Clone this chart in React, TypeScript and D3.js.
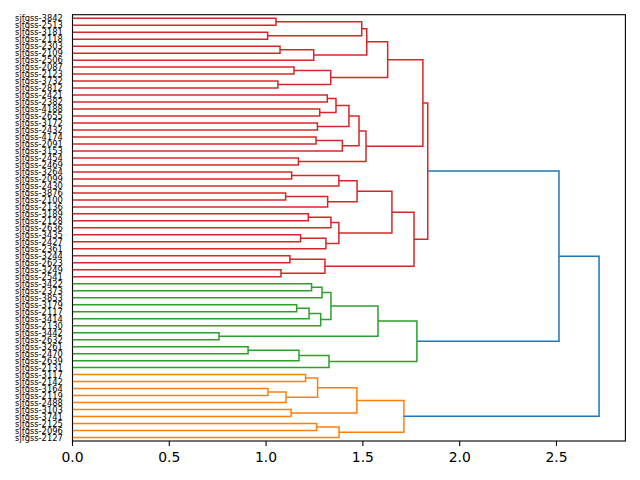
import * as d3 from 'd3';

// leaves, top to bottom
const leafLabels = [
  'sjfgss-3842', 'sjfgss-2513', 'sjfgss-3181', 'sjfgss-2118', 'sjfgss-2303', 'sjfgss-2109',
  'sjfgss-2506', 'sjfgss-2087', 'sjfgss-2123', 'sjfgss-3732', 'sjfgss-2812', 'sjfgss-2421',
  'sjfgss-2382', 'sjfgss-4188', 'sjfgss-2655', 'sjfgss-3172', 'sjfgss-2432', 'sjfgss-4174',
  'sjfgss-2091', 'sjfgss-3153', 'sjfgss-2454', 'sjfgss-2469', 'sjfgss-3264', 'sjfgss-2099',
  'sjfgss-2430', 'sjfgss-3876', 'sjfgss-2100', 'sjfgss-2136', 'sjfgss-3189', 'sjfgss-2128',
  'sjfgss-2636', 'sjfgss-3435', 'sjfgss-2427', 'sjfgss-2361', 'sjfgss-3244', 'sjfgss-2623',
  'sjfgss-3249', 'sjfgss-2541', 'sjfgss-3422', 'sjfgss-2373', 'sjfgss-3853', 'sjfgss-3179',
  'sjfgss-2117', 'sjfgss-3414', 'sjfgss-2130', 'sjfgss-3442', 'sjfgss-2632', 'sjfgss-3261',
  'sjfgss-2470', 'sjfgss-2639', 'sjfgss-2131', 'sjfgss-3117', 'sjfgss-2142', 'sjfgss-3164',
  'sjfgss-2119', 'sjfgss-2488', 'sjfgss-3103', 'sjfgss-3741', 'sjfgss-2125', 'sjfgss-2096',
  'sjfgss-2127',
];

// merges: [child a, child b, height]; ids >= 61 refer to earlier merges (61 + row)
const linkage: [number, number, number][] = [
  [0, 1, 1.051], [2, 3, 1.008], [61, 62, 1.494], [4, 5, 1.072], [64, 6, 1.246],
  [63, 65, 1.52], [7, 8, 1.144], [9, 10, 1.061], [67, 68, 1.334], [66, 69, 1.628],
  [11, 12, 1.316], [13, 14, 1.277], [71, 72, 1.361], [15, 16, 1.265], [73, 74, 1.428],
  [17, 18, 1.258], [76, 19, 1.394], [75, 77, 1.48], [20, 21, 1.167], [78, 79, 1.516],
  [70, 80, 1.81], [22, 23, 1.132], [82, 24, 1.376], [25, 26, 1.101], [84, 27, 1.318],
  [83, 85, 1.47], [28, 29, 1.218], [87, 30, 1.335], [31, 32, 1.178], [89, 33, 1.309],
  [88, 90, 1.376], [86, 91, 1.65], [34, 35, 1.123], [36, 37, 1.077], [93, 94, 1.304],
  [92, 95, 1.764], [81, 96, 1.835],
  [38, 39, 1.235], [98, 40, 1.289], [41, 42, 1.158], [100, 43, 1.222], [101, 44, 1.282],
  [99, 102, 1.335], [45, 46, 0.757], [103, 104, 1.578], [47, 48, 0.907], [106, 49, 1.17],
  [107, 50, 1.325], [105, 108, 1.779],
  [51, 52, 1.204], [53, 54, 1.01], [111, 55, 1.103], [110, 112, 1.266], [56, 57, 1.129],
  [113, 114, 1.469], [58, 59, 1.261], [116, 60, 1.377], [115, 117, 1.712],
  [97, 109, 2.513], [119, 118, 2.72],
];

const palette = ['#ff7f0e', '#2ca02c', '#d62728', '#9467bd', '#8c564b', '#e377c2', '#7f7f7f', '#bcbd22', '#17becf'];
const aboveColor = '#1f77b4';

const W = 640;
const H = 480;
const margin = { top: 14.7, right: 14.6, bottom: 39, left: 72.5 };
const font = 'DejaVu Sans, sans-serif';

export default function App() {
  const n = leafLabels.length;
  const maxH = d3.max(linkage, d => d[2])!;
  const x = d3.scaleLinear().domain([0, maxH * 1.05]).range([margin.left, W - margin.right]);
  const y = d3.scaleLinear().domain([0, n * 10]).range([margin.top, H - margin.bottom]);

  // node positions / heights, leaves first then merges
  const pos = leafLabels.map((_, i) => 5 + 10 * i);
  const hgt = leafLabels.map(() => 0);
  const lastLeaf = leafLabels.map((_, i) => i);
  const parent: number[] = [];
  linkage.forEach(([a, b, h], k) => {
    pos.push((pos[a] + pos[b]) / 2);
    hgt.push(h);
    lastLeaf.push(Math.max(lastLeaf[a], lastLeaf[b]));
    parent[a] = n + k;
    parent[b] = n + k;
  });

  // scipy-like colouring: clusters below 0.7 * max, numbered from the bottom leaf up
  const threshold = 0.7 * maxH;
  const roots = d3.range(n, n + linkage.length)
    .filter(id => hgt[id] < threshold && (parent[id] === undefined || hgt[parent[id]] >= threshold))
    .sort((p, q) => lastLeaf[q] - lastLeaf[p]);
  const colorOf = (id: number) => {
    let c = id;
    while (c !== undefined) {
      const r = roots.indexOf(c);
      if (r >= 0) return palette[r % palette.length];
      c = parent[c];
    }
    return aboveColor;
  };

  const line = d3.line<[number, number]>().x(d => x(d[0])).y(d => y(d[1]));

  const ticks = x.ticks(6);
  const fmt = d3.format('.1f');
  const plotBottom = H - margin.bottom;

  return (
    <svg width={W} height={H} style={{ position: 'absolute', left: 0, top: 0, background: '#fff' }}
      fontFamily={font}>
      <rect x={0} y={0} width={W} height={H} fill="#fff" />
      <g fill="none" strokeWidth={1.5} strokeLinejoin="miter" strokeLinecap="butt">
        {linkage.map(([a, b, h], k) => (
          <path key={k}
            d={line([[hgt[a], pos[a]], [h, pos[a]], [h, pos[b]], [hgt[b], pos[b]]]) ?? ''}
            stroke={colorOf(n + k)} />
        ))}
      </g>
      <rect x={margin.left} y={margin.top} width={W - margin.right - margin.left}
        height={plotBottom - margin.top} fill="none" stroke="#000" strokeWidth={1.1} />
      <g fontSize={8.33} textAnchor="end">
        {leafLabels.map((l, i) => (
          <text key={l} x={margin.left - 9.7} y={y(pos[i])} dy="0.36em">{l}</text>
        ))}
      </g>
      <g fontSize={13.9} textAnchor="middle">
        {ticks.map(t => (
          <g key={t}>
            <line x1={x(t)} x2={x(t)} y1={plotBottom} y2={plotBottom + 4.9} stroke="#000" strokeWidth={1.1} />
            <text x={x(t)} y={plotBottom + 20.5}>{fmt(t)}</text>
          </g>
        ))}
      </g>
    </svg>
  );
}
